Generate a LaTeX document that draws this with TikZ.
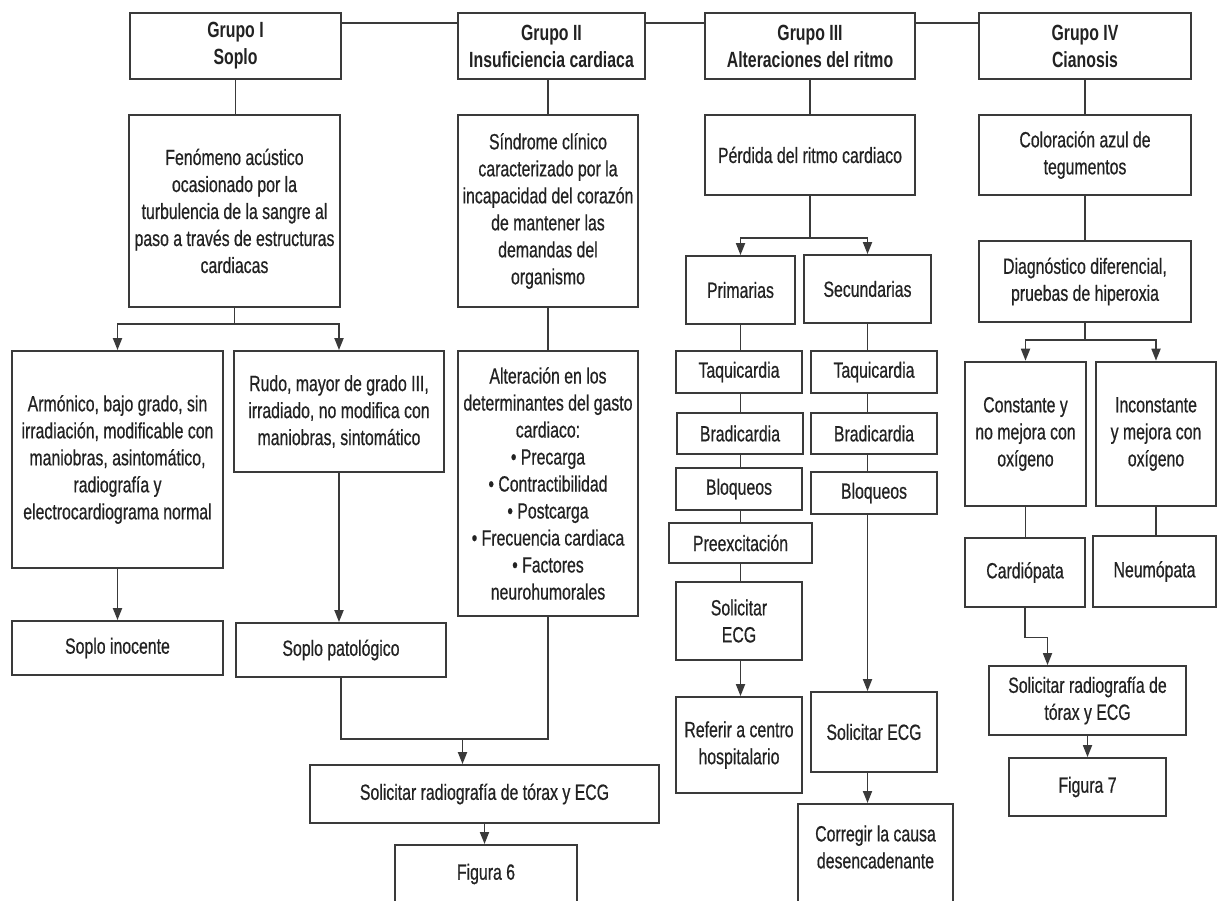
\documentclass[tikz,border=0pt]{standalone}
\usepackage{fontspec}
\setmainfont{Liberation Sans}[FakeStretch=0.72,UprightFeatures={FakeBold=0.6}]
\usetikzlibrary{arrows.meta}
\definecolor{ink}{HTML}{222222}
\definecolor{rule}{HTML}{3A3A3A}

\begin{document}
\begin{tikzpicture}[x=1pt,y=-1pt,
  txt/.style={align=center,text=ink,inner sep=2pt,font=\fontsize{22}{27}\selectfont},
  box/.style={txt,draw=rule,line width=1.8pt},
  head/.style={box,font=\fontsize{22}{27}\selectfont\bfseries},
  thickbox/.style={box,line width=2.6pt},
  wire/.style={draw=rule,line width=1.8pt},
  >={Triangle[length=12pt,width=9pt]}]
\useasboundingbox (0,0) rectangle (1217,900);
\clip (0,0) rectangle (1217,900);

% group headers
\node[head,minimum width=211,minimum height=66] (g1) at (235.5,46) {Grupo I\\Soplo};
\node[head,minimum width=187,minimum height=66] (g2) at (551.5,46) {Grupo II\\Insuficiencia cardiaca};
\node[head,minimum width=210,minimum height=66] (g3) at (810,46) {Grupo III\\Alteraciones del ritmo};
\node[head,minimum width=212,minimum height=66] (g4) at (1085,46) {Grupo IV\\Cianosis};
\draw[wire] ([yshift=-11pt]g1.north east) -- ([yshift=-11pt]g2.north west);
\draw[wire] ([yshift=-11pt]g2.north east) -- ([yshift=-11pt]g3.north west);
\draw[wire] ([yshift=-11pt]g3.north east) -- ([yshift=-11pt]g4.north west);

% grupo I
\node[box,minimum width=211,minimum height=192] (fen) at (234.5,211) {Fenómeno acústico\\ocasionado por la\\turbulencia de la sangre al\\paso a través de estructuras\\cardiacas};
\node[box,minimum width=211,minimum height=217] (armo) at (117.5,459.5) {Armónico, bajo grado, sin\\irradiación, modificable con\\maniobras, asintomático,\\radiografía y\\electrocardiograma normal};
\node[box,minimum width=210,minimum height=121] (rudo) at (339,411.5) {Rudo, mayor de grado III,\\irradiado, no modifica con\\maniobras, sintomático};
\node[box,minimum width=211,minimum height=54] (inoc) at (117.5,648) {Soplo inocente};
\node[box,minimum width=210,minimum height=54] (pato) at (341,650) {Soplo patológico};
\draw[wire] (g1.south) -- (g1.south |- fen.north);
\draw[wire,->] (fen.south) -- ++(0,16) -| (armo.north);
\draw[wire,->] (fen.south) -- ++(0,16) -| (rudo.north);
\draw[wire,->] (armo) -- (inoc);
\draw[wire,->] (rudo.south) -- (rudo.south |- pato.north);

% grupo II
\node[box,minimum width=180,minimum height=192] (sind) at (548,211) {Síndrome clínico\\caracterizado por la\\incapacidad del corazón\\de mantener las\\demandas del\\organismo};
\node[box,minimum width=180,minimum height=265] (alte) at (548,483.5) {Alteración en los\\determinantes del gasto\\cardiaco:\\• Precarga\\• Contractibilidad\\• Postcarga\\• Frecuencia cardiaca\\• Factores\\neurohumorales};
\node[box,minimum width=349,minimum height=58] (solrx) at (484.5,794) {Solicitar radiografía de tórax y ECG};
\node[box,minimum width=182,minimum height=80,anchor=north] (fig6) at (486,844) {};
\node[txt] (fig6txt) at ([yshift=-30pt]fig6.north) {Figura 6};
\draw[wire] (sind.north |- g2.south) -- (sind.north);
\draw[wire] (sind) -- (alte);
\path (alte.south) ++(0,122) coordinate (j6);
\coordinate (a6) at ([xshift=-22pt]solrx.north);
\draw[wire] (pato.south) |- (j6) -- (alte.south);
\draw[wire,->] (a6 |- j6) -- (a6);
\draw[wire,->] (solrx.south) -- (solrx.south |- fig6.north);

% grupo III
\node[box,minimum width=210,minimum height=80] (perd) at (810,155) {Pérdida del ritmo cardiaco};
\node[box,minimum width=109,minimum height=68] (prim) at (740.5,290) {Primarias};
\node[box,minimum width=127,minimum height=68] (secu) at (867.5,289) {Secundarias};
\node[box,minimum width=126,minimum height=42] (taqL) at (739,372) {Taquicardia};
\node[box,minimum width=126,minimum height=41] (braL) at (740,433.5) {Bradicardia};
\node[box,minimum width=126,minimum height=42] (bloL) at (739,489) {Bloqueos};
\node[box,minimum width=143,minimum height=40] (pree) at (740.5,543) {Preexcitación};
\node[box,minimum width=126,minimum height=78] (ecgL) at (739,621) {Solicitar\\ECG};
\node[box,minimum width=126,minimum height=96] (refe) at (739,745) {Referir a centro\\hospitalario};
\node[box,minimum width=126,minimum height=42] (taqR) at (874,372) {Taquicardia};
\node[box,minimum width=126,minimum height=41] (braR) at (874,433.5) {Bradicardia};
\node[box,minimum width=126,minimum height=42] (bloR) at (874,493) {Bloqueos};
\node[box,minimum width=126,minimum height=80] (ecgR) at (874,732) {Solicitar ECG};
\node[box,minimum width=155,minimum height=120,anchor=north] (corr) at (875.5,803) {};
\node[txt] (corrtxt) at ([yshift=-44pt]corr.north) {Corregir la causa\\desencadenante};
\draw[wire] (g3) -- (perd);
\draw[wire,->] (perd.south) -- ++(0,42) -| (prim.north);
\draw[wire,->] (perd.south) -- ++(0,42) -| (secu.north);
\foreach \a/\b in {prim/taqL,taqL/braL,braL/bloL,bloL/pree,pree/ecgL}
  \draw[wire] (prim.south |- \a.south) -- (prim.south |- \b.north);
\draw[wire,->] (prim.south |- ecgL.south) -- (prim.south |- refe.north);
\foreach \a/\b in {secu/taqR,taqR/braR,braR/bloR}
  \draw[wire] (secu.south |- \a.south) -- (secu.south |- \b.north);
\foreach \a/\b in {bloR/ecgR,ecgR/corr}
  \draw[wire,->] (secu.south |- \a.south) -- (secu.south |- \b.north);

% grupo IV
\node[box,minimum width=212,minimum height=80] (color) at (1085,155) {Coloración azul de\\tegumentos};
\node[box,minimum width=212,minimum height=81] (diag) at (1085,281.5) {Diagnóstico diferencial,\\pruebas de hiperoxia};
\node[thickbox,minimum width=121,minimum height=144] (cons) at (1025.5,434) {Constante y\\no mejora con\\oxígeno};
\node[thickbox,minimum width=120,minimum height=144] (inco) at (1156,434) {Inconstante\\y mejora con\\oxígeno};
\node[box,minimum width=120,minimum height=69] (card) at (1025,572.5) {Cardiópata};
\node[box,minimum width=123,minimum height=71] (neum) at (1154.5,571.5) {Neumópata};
\node[box,minimum width=197,minimum height=69] (solrx4) at (1087.5,700.5) {Solicitar radiografía de\\tórax y ECG};
\node[box,minimum width=157,minimum height=58] (fig7) at (1087.5,787) {Figura 7};
\draw[wire] (g4) -- (color);
\draw[wire] (color) -- (diag);
\draw[wire,->] (diag.south) -- ++(0,17) -| (cons.north);
\draw[wire,->] (diag.south) -- ++(0,17) -| (inco.north);
\draw[wire] (cons.south) -- (cons.south |- card.north);
\draw[wire] (inco.south) -- (inco.south |- neum.north);
\coordinate (a7) at ([xshift=-40pt]solrx4.north);
\draw[wire,->] (card.south) -- ++(0,29.5) -| (a7);
\draw[wire,->] (solrx4) -- (fig7);
\end{tikzpicture}
\end{document}
